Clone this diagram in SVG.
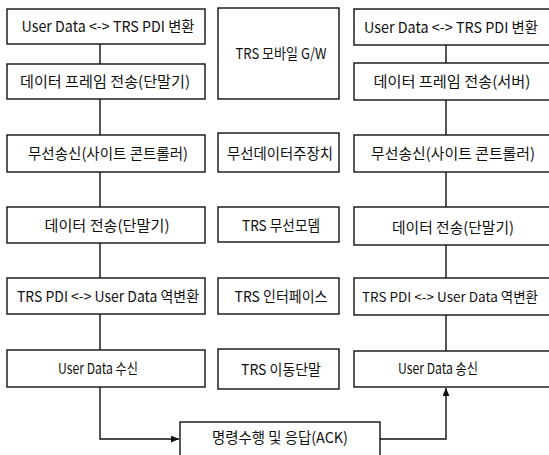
<svg xmlns="http://www.w3.org/2000/svg" width="549" height="455" viewBox="0 0 549 455">
<style>
rect.n{fill:#fff;stroke:#111;stroke-width:1.4}
rect.bg{fill:#fff;stroke:none}
text{font-family:"Noto Sans CJK KR","Noto Sans",sans-serif;font-size:15px;fill:#111;text-anchor:middle}
text.s{font-size:13.5px}
.c{fill:none;stroke:#111;stroke-width:1.4}
</style>
<defs>
<marker id="ah" markerWidth="8" markerHeight="7" refX="8" refY="3.5" orient="auto" markerUnits="userSpaceOnUse">
<path d="M0,0 L8,3.5 L0,7 Z" fill="#111"/>
</marker>
</defs>
<rect class="bg" width="549" height="455"/>
<g id="connectors">
<path class="c" d="M100,44V64M100,99V135M100,172V207M100,243V278M100,314V350"/>
<path class="c" d="M446,45V63M446,100V135M446,172V207M446,245V278M446,315V351"/>
<path class="c" d="M100,387V439H179" marker-end="url(#ah)"/>
<path class="c" d="M380,439H446V388" marker-end="url(#ah)"/>
</g>
<g id="l1"><rect class="n" x="7" y="9" width="198" height="35"/><text x="108" y="32" textLength="173" lengthAdjust="spacingAndGlyphs">User Data &lt;-&gt; TRS PDI 변환</text></g>
<g id="l2"><rect class="n" x="7" y="64" width="198" height="35"/><text x="105" y="87" textLength="170" lengthAdjust="spacingAndGlyphs">데이터 프레임 전송(단말기)</text></g>
<g id="l3"><rect class="n" x="7" y="135" width="198" height="37"/><text x="108" y="159" textLength="160" lengthAdjust="spacingAndGlyphs">무선송신(사이트 콘트롤러)</text></g>
<g id="l4"><rect class="n" x="7" y="207" width="198" height="36"/><text x="107" y="231" textLength="125" lengthAdjust="spacingAndGlyphs">데이터 전송(단말기)</text></g>
<g id="l5"><rect class="n" x="7" y="278" width="198" height="36"/><text x="108" y="302" textLength="182" lengthAdjust="spacingAndGlyphs">TRS PDI &lt;-&gt; User Data 역변환</text></g>
<g id="l6"><rect class="n" x="7" y="350" width="198" height="37"/><text x="98" y="374" textLength="80" lengthAdjust="spacingAndGlyphs">User Data 수신</text></g>
<g id="m1"><rect class="n" x="218" y="8" width="121" height="91"/><text x="281" y="59" textLength="91" lengthAdjust="spacingAndGlyphs">TRS 모바일 G/W</text></g>
<g id="m2"><rect class="n" x="218" y="133" width="121" height="39"/><text x="280" y="159" textLength="106" lengthAdjust="spacingAndGlyphs">무선데이터주장치</text></g>
<g id="m3"><rect class="n" x="218" y="207" width="121" height="35"/><text x="281" y="231" textLength="78" lengthAdjust="spacingAndGlyphs">TRS 무선모뎀</text></g>
<g id="m4"><rect class="n" x="218" y="278" width="121" height="36"/><text x="281" y="302" textLength="93" lengthAdjust="spacingAndGlyphs">TRS 인터페이스</text></g>
<g id="m5"><rect class="n" x="218" y="349" width="121" height="40"/><text x="281" y="375" textLength="80" lengthAdjust="spacingAndGlyphs">TRS 이동단말</text></g>
<g id="r1"><rect class="n" x="354" y="9" width="200" height="36"/><text x="451" y="33" textLength="174" lengthAdjust="spacingAndGlyphs">User Data &lt;-&gt; TRS PDI 변환</text></g>
<g id="r2"><rect class="n" x="354" y="63" width="200" height="37"/><text x="452" y="87" textLength="157" lengthAdjust="spacingAndGlyphs">데이터 프레임 전송(서버)</text></g>
<g id="r3"><rect class="n" x="354" y="135" width="200" height="37"/><text x="453" y="159" textLength="164" lengthAdjust="spacingAndGlyphs">무선송신(사이트 콘트롤러)</text></g>
<g id="r4"><rect class="n" x="354" y="207" width="200" height="38"/><text x="453" y="233" textLength="122" lengthAdjust="spacingAndGlyphs">데이터 전송(단말기)</text></g>
<g id="r5"><rect class="n" x="354" y="278" width="200" height="37"/><text class="s" x="450" y="302" textLength="176" lengthAdjust="spacingAndGlyphs">TRS PDI &lt;-&gt; User Data 역변환</text></g>
<g id="r6"><rect class="n" x="354" y="351" width="200" height="36"/><text x="438" y="374" textLength="80" lengthAdjust="spacingAndGlyphs">User Data 송신</text></g>
<g id="b1"><rect class="n" x="180" y="422" width="200" height="40"/><text x="280" y="443" textLength="136" lengthAdjust="spacingAndGlyphs">명령수행 및 응답(ACK)</text></g>
</svg>
